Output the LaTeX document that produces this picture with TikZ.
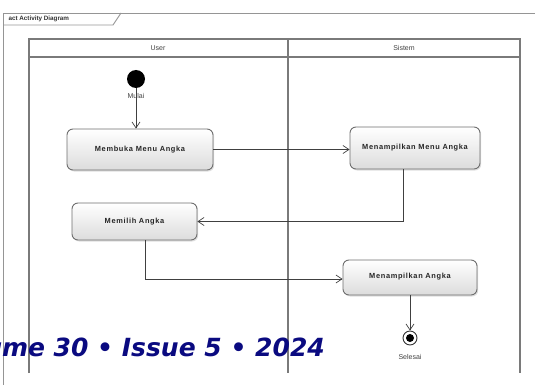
\documentclass[tikz,border=0pt]{standalone}
\usepackage{fontspec}
\setmainfont{Liberation Sans}
\newfontfamily\boxfont{Liberation Sans}[LetterSpace=9]
\newfontfamily\volfont{DejaVu Sans}
\usetikzlibrary{arrows.meta,shadows,calc}
\definecolor{laneline}{HTML}{7A7A7A}
\definecolor{boxline}{HTML}{6E6E6E}
\definecolor{boxshade}{HTML}{DCDCDC}
\definecolor{volblue}{HTML}{0A0A80}
\begin{document}
\begin{tikzpicture}[x=1pt,y=-1pt,
  lane/.style={draw=laneline,line width=1.3pt},
  framestyle/.style={draw=laneline!80,line width=0.9pt},
  action/.style={draw=boxline,line width=0.9pt,rounded corners=6pt,
    top color=white,bottom color=boxshade,
    drop shadow={shadow xshift=1.2pt,shadow yshift=-1.5pt,opacity=0.25},
    font=\boxfont\bfseries\fontsize{7.4}{9}\selectfont,text=black!85,inner sep=0pt,align=center},
  flow/.style={draw=black!75,line width=0.7pt,
    -{Straight Barb[length=6pt,width=8pt,line width=0.7pt]}},
  small/.style={font=\fontsize{7}{8}\selectfont,text=black!75},
]
\useasboundingbox (0,0) rectangle (535,385);

% diagram frame with its name tab
\draw[framestyle] (3,395) -- (3,13) -- (545,13);
\draw[framestyle] (3,25) -- (113,25) -- (121,13);
\node[anchor=west,font=\bfseries\fontsize{6.3}{7}\selectfont,text=black!80] (tab) at (5,19) {act Activity Diagram};

% swimlanes
\draw[lane] (29,373) -- (29,39) -- (520,39) -- (520,373);
\draw[lane] (288,39) -- (288,373);
\draw[lane] (29,57) -- (520,57);
\node[small] (userlane) at (158,48) {User};
\node[small] (sistemlane) at (404,48) {Sistem};

% initial and final nodes
\node[circle,fill=black,minimum size=18pt,inner sep=0pt] (start) at (136,79) {};
\node[small,fill=white,inner sep=0.5pt] (mulai) at (136,96) {Mulai};
\node[circle,draw=black!80,line width=0.9pt,fill=white,minimum size=14pt,inner sep=0pt] (finish) at (410,338) {};
\fill (finish) circle (4pt);
\node[small] (selesai) at (410,357) {Selesai};

% actions
\node[action,minimum width=146pt,minimum height=41pt] (a1) at (140,149.5) {Membuka Menu Angka};
\node[action,minimum width=130pt,minimum height=42pt] (a2) at (415,148) {Menampilkan Menu Angka};
\node[action,minimum width=125pt,minimum height=37pt] (a3) at (134.5,221.5) {Memilih Angka};
\node[action,minimum width=134pt,minimum height=35pt] (a4) at (410,277.5) {\raisebox{3pt}{Menampilkan Angka}};

% control flows
\draw[flow] (start) -- (start |- a1.north);
\draw[flow] (a1.east) -- (a1.east -| a2.west);
\draw[flow] ($(a2.south)+(-12,0)$) |- (a3.east);
\draw[flow] ($(a3.south)+(10.5,0)$) |- ($(a4.west)+(0,1.5)$);
\draw[flow] (a4.south) -- (finish.north);

% journal footer line
\node[anchor=base east,inner sep=0pt,text=volblue,
  font=\volfont\bfseries\itshape\fontsize{25}{29}\selectfont] (footer) at (325,356)
  {Volume 30 • Issue 5 • 2024};
\end{tikzpicture}
\end{document}
